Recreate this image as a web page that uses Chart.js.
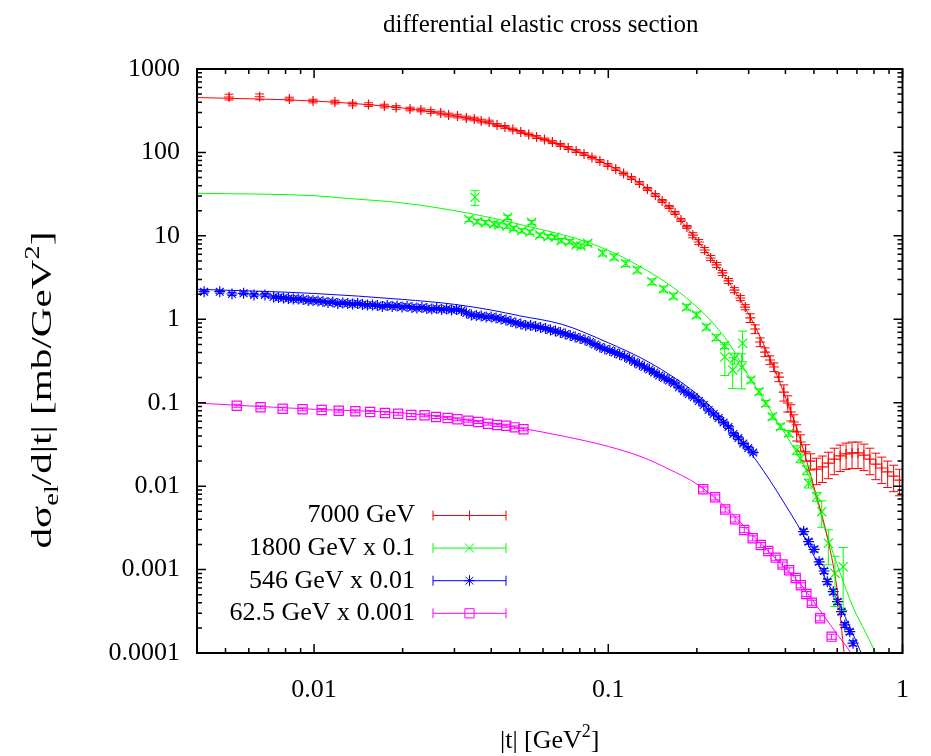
<!DOCTYPE html>
<html>
<head>
<meta charset="utf-8">
<script src="https://cdn.jsdelivr.net/npm/chart.js@4.4.1/dist/chart.umd.min.js"></script>
<style>
  html, body { margin: 0; padding: 0; background: #fff; }
  canvas { display: block; }
</style>
</head>
<body>
<canvas id="c" width="931" height="756"></canvas>
<script>
const FONT = '"Liberation Serif", "Times New Roman", serif';

// axis decades that carry labels
const xTickValues = [0.01, 0.1, 1];
const yTickValues = [0.0001, 0.001, 0.01, 0.1, 1, 10, 100, 1000];

const seriesLabels = ['7000 GeV', '1800 GeV x 0.1', '546 GeV x 0.01', '62.5 GeV x 0.001'];
const seriesColors = ['#ff0000', '#00ff00', '#0000ff', '#ff00ff'];
const seriesMarkers = ['cross', 'crossRot', 'star', 'rect'];
const markerRadii = [5, 6.5, 5.5, 6.5];

// 7000 GeV measurements: |t| [GeV^2], dsigma/dt [mb/GeV^2], relative uncertainty
const t7000 = [0.00514, 0.00653, 0.00824, 0.00992, 0.01177, 0.01352, 0.01531, 0.01733, 0.01901, 0.02119,
  0.02307, 0.02493, 0.02693, 0.02865, 0.03072, 0.03293, 0.03503, 0.03699, 0.03936, 0.04187,
  0.04454, 0.04738, 0.05041, 0.05362, 0.05705, 0.06069, 0.06457, 0.06870, 0.07309, 0.07776,
  0.08270, 0.08800, 0.09363, 0.09961, 0.1060, 0.1127, 0.1199, 0.1276, 0.1358, 0.1445,
  0.1525, 0.1610, 0.1686, 0.1766, 0.1850, 0.1938, 0.2030, 0.2126, 0.2228, 0.2334,
  0.2444, 0.2561, 0.2683, 0.2810, 0.2921, 0.3037, 0.3157, 0.3281, 0.3411, 0.3545,
  0.3656, 0.3800, 0.3950, 0.4074, 0.4170, 0.4268, 0.4368, 0.4506, 0.4684, 0.4869,
  0.5101, 0.5343, 0.5597, 0.5863, 0.6139, 0.6431, 0.6738, 0.7059, 0.7394, 0.7746,
  0.8113, 0.8500, 0.8903, 0.9327, 0.9770];
const v7000 = [462, 465, 437, 413, 402, 381, 375, 360, 346, 332,
  323, 310, 297, 281, 273, 259, 252, 238, 232, 213,
  202, 188, 176, 164, 153, 143, 133, 123, 113, 104,
  95.8, 87.0, 78.9, 70.7, 63.3, 55.9, 49.4, 43.0, 36.5, 30.9,
  26.2, 22.2, 18.8, 15.5, 12.8, 10.2, 8.44, 6.77, 5.43, 4.48,
  3.59, 2.88, 2.24, 1.80, 1.40, 1.04, 0.765, 0.534, 0.405, 0.325,
  0.268, 0.203, 0.134, 0.0992, 0.0774, 0.0587, 0.0446, 0.0338, 0.0257, 0.0200,
  0.0160, 0.0170, 0.0189, 0.0211, 0.0230, 0.0243, 0.0250, 0.0250, 0.0236, 0.0211,
  0.0184, 0.0165, 0.0148, 0.0132, 0.0118];
const e7000 = [0.08, 0.08,
  0.05, 0.05, 0.05, 0.05, 0.05, 0.05, 0.05, 0.05, 0.05, 0.05, 0.05, 0.05, 0.05, 0.05, 0.05, 0.05, 0.05,
  0.04, 0.04, 0.04, 0.04, 0.04, 0.04, 0.04, 0.04, 0.04, 0.04, 0.04, 0.04, 0.04,
  0.04, 0.04, 0.04, 0.04, 0.04, 0.04, 0.04, 0.04, 0.04, 0.04, 0.04, 0.04, 0.04,
  0.07, 0.07, 0.07, 0.07, 0.07, 0.07, 0.07, 0.07, 0.07, 0.07,
  0.12, 0.12, 0.12, 0.12, 0.12, 0.12, 0.12,
  0.22, 0.22, 0.22, 0.22, 0.22, 0.22, 0.22, 0.22,
  0.35, 0.35, 0.35, 0.35, 0.35, 0.35, 0.35, 0.35, 0.35, 0.35, 0.35, 0.35, 0.35, 0.35, 0.35];

// 1800 GeV measurements, scaled by 0.1
const t1800 = [0.03362, 0.03523, 0.03586, 0.03824, 0.04082, 0.04243, 0.04550, 0.04524, 0.04764, 0.05081,
  0.05417, 0.05489, 0.05853, 0.06246, 0.06573, 0.06923, 0.07383, 0.07776, 0.08082, 0.08513,
  0.09561, 0.1046, 0.1145, 0.1254, 0.1408, 0.1540, 0.1664, 0.1846, 0.1995, 0.2155,
  0.2328, 0.2483, 0.2490, 0.2648, 0.2683, 0.2839, 0.2861, 0.3053, 0.3255, 0.3428,
  0.3609, 0.3850, 0.4106, 0.4378, 0.4495, 0.4732, 0.4795, 0.5112, 0.5314, 0.5597,
  0.5894, 0.6285];
const v1800 = [15.8, 29.0, 14.8, 14.4, 13.9, 13.5, 16.7, 13.1, 12.3, 11.5,
  11.1, 14.5, 10.2, 9.77, 9.61, 8.75, 8.51, 7.77, 7.56, 8.14,
  6.23, 5.58, 4.66, 3.90, 2.82, 2.31, 1.90, 1.40, 1.13, 0.808,
  0.605, 0.485, 0.353, 0.247, 0.341, 0.266, 0.516, 0.187, 0.136, 0.0985,
  0.0680, 0.0516, 0.0430, 0.0271, 0.0216, 0.0156, 0.0108, 0.00747, 0.00494, 0.00207,
  0.000902, 0.00108];
const e1800 = [0.06, 0.2,
  0.06, 0.06, 0.06, 0.06, 0.06, 0.06, 0.06, 0.06, 0.06, 0.06, 0.06, 0.06, 0.06, 0.06, 0.06, 0.06, 0.06, 0.06,
  0.08, 0.08, 0.08, 0.08, 0.08, 0.08, 0.08, 0.08, 0.08, 0.08, 0.08, 0.08,
  0.4, 0.4, 0.15, 0.45, 0.4,
  0.08, 0.08, 0.08, 0.08, 0.08, 0.08,
  0.12, 0.12, 0.12, 0.12, 0.12,
  0.35, 0.45, 0.6, 0.7];

// 546 GeV measurements, scaled by 0.01
const t546 = [0.00423, 0.00478, 0.00526, 0.00576, 0.00625, 0.00681,
  0.00728, 0.00757, 0.00787, 0.00818, 0.00850, 0.00883, 0.00918, 0.00955, 0.00992, 0.01031,
  0.01072, 0.01115, 0.01158, 0.01204, 0.01252, 0.01301, 0.01352, 0.01406, 0.01461, 0.01519,
  0.01579, 0.01641, 0.01706, 0.01773, 0.01843, 0.01916, 0.01991, 0.02070, 0.02152, 0.02236,
  0.02325, 0.02416, 0.02512, 0.02611, 0.02714, 0.02821, 0.02932, 0.03048, 0.03168, 0.03293,
  0.03424, 0.03559, 0.03699, 0.03845, 0.03997, 0.04155, 0.04319, 0.04489, 0.04666, 0.04850,
  0.05042, 0.05240, 0.05447, 0.05662, 0.05885, 0.06118, 0.06359, 0.06610, 0.06871, 0.07142,
  0.07424, 0.07716, 0.08021, 0.08337, 0.08666, 0.09008, 0.09363, 0.09732, 0.1012, 0.1052,
  0.1093, 0.1136, 0.1181, 0.1228, 0.1276, 0.1327, 0.1379, 0.1433, 0.1490, 0.1549,
  0.1610, 0.1673, 0.1739, 0.1808, 0.1879, 0.1954, 0.2031, 0.2111, 0.2194, 0.2280,
  0.2371, 0.2465, 0.2562, 0.2663, 0.2767, 0.2876, 0.2990, 0.3108,
  0.4612, 0.4795, 0.5009, 0.5207, 0.5412, 0.5553, 0.5817, 0.6013, 0.6204, 0.6368, 0.6619, 0.6790];
const v546 = [2.14, 2.14, 2.01, 2.05, 1.96, 1.96,
  1.850, 1.825, 1.800, 1.775, 1.751, 1.751, 1.727, 1.680, 1.680, 1.657,
  1.634, 1.590, 1.612, 1.547, 1.568, 1.547, 1.525, 1.547, 1.504, 1.484,
  1.484, 1.464, 1.423, 1.464, 1.423, 1.443, 1.404, 1.423, 1.385, 1.366,
  1.385, 1.347, 1.329, 1.347, 1.310, 1.329, 1.292, 1.310, 1.275, 1.190,
  1.126, 1.111, 1.095, 1.065, 1.065, 1.036, 1.008, 0.981, 0.941, 0.903,
  0.878, 0.843, 0.843, 0.820, 0.797, 0.776, 0.744, 0.724, 0.694, 0.666,
  0.639, 0.613, 0.588, 0.565, 0.534, 0.499, 0.465, 0.440, 0.423, 0.400,
  0.378, 0.358, 0.334, 0.308, 0.287, 0.268, 0.250, 0.230, 0.212, 0.198,
  0.185, 0.172, 0.154, 0.138, 0.127, 0.117, 0.105, 0.0939, 0.0818, 0.0732,
  0.0656, 0.0579, 0.0512, 0.0422, 0.0378, 0.0324, 0.0287, 0.0253,
  0.00285, 0.00216, 0.00175, 0.00124, 0.000962, 0.000716, 0.000543, 0.000412, 0.000313, 0.000217, 0.000180, 0.000131];
const e546 = [0.04, 0.04, 0.04, 0.04, 0.04, 0.04,
  0.03, 0.03, 0.03, 0.03, 0.03, 0.03, 0.03, 0.03, 0.03, 0.03,
  0.03, 0.03, 0.03, 0.03, 0.03, 0.03, 0.03, 0.03, 0.03, 0.03,
  0.03, 0.03, 0.03, 0.03, 0.03, 0.03, 0.03, 0.03, 0.03, 0.03,
  0.03, 0.03, 0.03, 0.03, 0.03, 0.03, 0.03, 0.03, 0.03, 0.03,
  0.03, 0.03, 0.03, 0.03, 0.03, 0.03, 0.03, 0.03, 0.03, 0.03,
  0.03, 0.03, 0.03, 0.03, 0.03, 0.03, 0.03, 0.03, 0.03, 0.03,
  0.03, 0.03, 0.03, 0.03, 0.03, 0.03, 0.03, 0.03, 0.03, 0.03,
  0.03, 0.03, 0.03, 0.03, 0.03, 0.03, 0.03, 0.03, 0.03, 0.03,
  0.03, 0.03, 0.03, 0.03, 0.03, 0.03, 0.03, 0.03, 0.03, 0.03,
  0.04, 0.04, 0.04, 0.04, 0.04, 0.04, 0.04, 0.04,
  0.07, 0.07, 0.07, 0.07, 0.07, 0.07, 0.07, 0.07, 0.07, 0.07, 0.07, 0.07];

// 62.5 GeV measurements, scaled by 0.001
const t62 = [0.00546, 0.00658, 0.00782, 0.00914, 0.01061, 0.01213, 0.01381, 0.01551, 0.01742, 0.01931,
  0.02140, 0.02374, 0.02597, 0.02844, 0.03072, 0.03345, 0.03614, 0.03905, 0.04187, 0.04499,
  0.04801, 0.05148,
  0.2102, 0.2307, 0.2497, 0.2698, 0.2899, 0.3096, 0.3298, 0.3499, 0.3705, 0.3911,
  0.4117, 0.4335, 0.4513, 0.4713, 0.4918, 0.5248, 0.5741];
const v62 = [0.0920, 0.0881, 0.0848, 0.0834, 0.0818, 0.0802, 0.0789, 0.0774, 0.0753, 0.0738,
  0.0712, 0.0707, 0.0674, 0.0656, 0.0633, 0.0609, 0.0587, 0.0560, 0.0541, 0.0530,
  0.0507, 0.0480,
  0.00917, 0.00735, 0.00525, 0.00400, 0.00298, 0.00237, 0.00197, 0.00167, 0.00139, 0.00115,
  0.000980, 0.000793, 0.000648, 0.000510, 0.000401, 0.000261, 0.000157];
const e62 = [0.04, 0.04, 0.04, 0.04, 0.04, 0.04, 0.04, 0.04, 0.04, 0.04,
  0.04, 0.04, 0.04, 0.04, 0.04, 0.04, 0.04, 0.04, 0.04, 0.04, 0.04, 0.04,
  0.07, 0.07, 0.07, 0.07, 0.07, 0.07, 0.07, 0.07, 0.07, 0.07,
  0.07, 0.07, 0.07, 0.07, 0.07, 0.07, 0.07];

// model curves
const fitT7000 = [0.004, 0.01, 0.02, 0.03, 0.04, 0.05, 0.07, 0.1, 0.15, 0.2, 0.25, 0.3, 0.35, 0.4, 0.45, 0.5, 0.55, 0.6, 0.635];
const fitV7000 = [455, 413, 341, 275, 222, 178, 119, 70.7, 27.7, 8.92, 3.21, 1.157, 0.373, 0.117, 0.0357, 0.00977, 0.00282, 0.000569, 0.00009];
const fitT1800 = [0.004, 0.01, 0.0128, 0.02, 0.0332, 0.0528, 0.086, 0.1237, 0.1822, 0.2483, 0.306, 0.3861, 0.4368, 0.4869, 0.5511, 0.6139, 0.6788, 0.7507, 0.8177];
const fitV1800 = [32.4, 30.3, 28.2, 24.8, 18.8, 13.1, 8.28, 4.60, 1.87, 0.613, 0.187, 0.0512, 0.0250, 0.0119, 0.00274, 0.00091, 0.000356, 0.000174, 0.0000946];
const fitT546 = [0.004, 0.01, 0.02, 0.03, 0.04, 0.05, 0.07, 0.1, 0.13, 0.16, 0.2, 0.25, 0.3, 0.35, 0.4, 0.45, 0.5, 0.55, 0.6, 0.65, 0.7, 0.73];
const fitV546 = [2.29, 2.04, 1.73, 1.51, 1.29, 1.10, 0.865, 0.523, 0.340, 0.222, 0.127, 0.0591, 0.0270, 0.0125, 0.00594, 0.00298, 0.00146, 0.00075, 0.000432, 0.000235, 0.000132, 0.0000925];
const fitT62 = [0.004, 0.01, 0.02, 0.03, 0.04, 0.05, 0.07, 0.1, 0.13, 0.16, 0.2, 0.25, 0.3, 0.35, 0.4, 0.45, 0.5, 0.55, 0.6, 0.65, 0.678];
const fitV62 = [0.099, 0.0834, 0.0753, 0.0647, 0.0564, 0.0498, 0.0399, 0.0299, 0.0224, 0.0161, 0.0106, 0.00562, 0.00290, 0.00167, 0.00102, 0.000672, 0.000409, 0.000256, 0.000167, 0.000115, 0.000092];

const pts = (t, v) => t.map((x, i) => ({ x, y: v[i] }));

function dataSet(i, t, v, err) {
  return {
    type: 'scatter', label: seriesLabels[i], data: pts(t, v), relErr: err,
    showLine: false, borderColor: seriesColors[i], backgroundColor: 'rgba(0,0,0,0)',
    pointStyle: seriesMarkers[i], pointRadius: markerRadii[i], pointHoverRadius: markerRadii[i],
    pointBorderWidth: 1.2, pointBackgroundColor: 'rgba(0,0,0,0)', pointBorderColor: seriesColors[i]
  };
}
function curveSet(i, t, v) {
  return {
    type: 'line', label: seriesLabels[i] + ' fit', data: pts(t, v),
    borderColor: seriesColors[i], borderWidth: 1, pointRadius: 0, fill: false,
    cubicInterpolationMode: 'monotone'
  };
}

// vertical error bars with short caps
const CAP = 4.5;
const errorBars = {
  id: 'errorBars',
  afterDatasetsDraw(chart) {
    const { ctx, chartArea: a, scales: { x, y } } = chart;
    ctx.save();
    ctx.beginPath();
    ctx.rect(a.left, a.top, a.right - a.left, a.bottom - a.top);
    ctx.clip();
    ctx.lineWidth = 1;
    chart.data.datasets.forEach(ds => {
      if (!ds.relErr) return;
      ctx.strokeStyle = ds.borderColor;
      ctx.beginPath();
      ds.data.forEach((p, i) => {
        const px = x.getPixelForValue(p.x);
        const lo = y.getPixelForValue(p.y * (1 - ds.relErr[i]));
        const hi = y.getPixelForValue(p.y * (1 + ds.relErr[i]));
        ctx.moveTo(px, lo); ctx.lineTo(px, hi);
        ctx.moveTo(px - CAP, lo); ctx.lineTo(px + CAP, lo);
        ctx.moveTo(px - CAP, hi); ctx.lineTo(px + CAP, hi);
      });
      ctx.stroke();
    });
    ctx.restore();
  }
};

// plot frame with inward major and minor tick marks on all four sides
const frame = {
  id: 'frame',
  afterDraw(chart) {
    const { ctx, chartArea: a, scales: { x, y } } = chart;
    ctx.save();
    ctx.strokeStyle = '#000';
    ctx.lineWidth = 1.5;
    ctx.beginPath();
    for (let d = -3; d <= 0; d++) {
      for (let m = 1; m <= 9; m++) {
        const v = m * Math.pow(10, d);
        if (v < x.min * 0.999 || v > x.max * 1.001) continue;
        const px = x.getPixelForValue(v), len = m === 1 ? 9 : 5;
        ctx.moveTo(px, a.bottom); ctx.lineTo(px, a.bottom - len);
        ctx.moveTo(px, a.top); ctx.lineTo(px, a.top + len);
      }
    }
    for (let d = -4; d <= 3; d++) {
      for (let m = 1; m <= 9; m++) {
        const v = m * Math.pow(10, d);
        if (v < y.min * 0.999 || v > y.max * 1.001) continue;
        const py = y.getPixelForValue(v), len = m === 1 ? 9 : 5;
        ctx.moveTo(a.left, py); ctx.lineTo(a.left + len, py);
        ctx.moveTo(a.right, py); ctx.lineTo(a.right - len, py);
      }
    }
    ctx.stroke();
    ctx.lineWidth = 2;
    ctx.strokeRect(a.left, a.top, a.right - a.left, a.bottom - a.top);
    ctx.restore();
  }
};

// draws a run of text pieces (size, vertical shift) centred on x
function drawRuns(ctx, runs, cx, baseY) {
  let total = 0;
  runs.forEach(r => { ctx.font = r.size + 'px ' + FONT; total += ctx.measureText(r.text).width; });
  let xx = cx - total / 2;
  ctx.textAlign = 'left';
  ctx.textBaseline = 'alphabetic';
  runs.forEach(r => {
    ctx.font = r.size + 'px ' + FONT;
    ctx.fillText(r.text, xx, baseY + (r.dy || 0));
    xx += ctx.measureText(r.text).width;
  });
  return total;
}

const texts = {
  id: 'texts',
  afterDraw(chart) {
    const { ctx, chartArea: a } = chart;
    const cx = (a.left + a.right) / 2;
    ctx.save();
    ctx.fillStyle = '#000';
    // title
    ctx.font = '25px ' + FONT;
    ctx.textAlign = 'center';
    ctx.textBaseline = 'alphabetic';
    ctx.fillText('differential elastic cross section', cx - 9, 32);
    // x axis title
    drawRuns(ctx, [
      { text: '|t| [GeV', size: 26 },
      { text: '2', size: 18, dy: -11 },
      { text: ']', size: 26 }
    ], cx, 748);
    // y axis title, rotated
    ctx.save();
    ctx.translate(51, 390);
    ctx.rotate(-Math.PI / 2);
    ctx.scale(1.42, 1);
    drawRuns(ctx, [
      { text: 'd\u03C3', size: 29 },
      { text: 'el', size: 20, dy: 7 },
      { text: '/d|t| [mb/GeV', size: 29 },
      { text: '2', size: 20, dy: -12 },
      { text: ']', size: 29 }
    ], 0, 0);
    ctx.restore();
    // key
    ctx.font = '26px ' + FONT;
    ctx.textAlign = 'right';
    ctx.textBaseline = 'middle';
    seriesLabels.forEach((label, i) => {
      const yy = a.top + 446.5 + i * 32.6;
      ctx.fillStyle = '#000';
      ctx.fillText(label, a.left + 218, yy);
      const x0 = a.left + 236, x1 = a.left + 309, xm = (x0 + x1) / 2;
      ctx.strokeStyle = seriesColors[i];
      ctx.fillStyle = 'rgba(0,0,0,0)';
      ctx.lineWidth = 1;
      ctx.beginPath();
      ctx.moveTo(x0, yy); ctx.lineTo(x1, yy);
      ctx.moveTo(x0, yy - 5); ctx.lineTo(x0, yy + 5);
      ctx.moveTo(x1, yy - 5); ctx.lineTo(x1, yy + 5);
      ctx.stroke();
      Chart.helpers.drawPoint(ctx, {
        pointStyle: seriesMarkers[i], radius: markerRadii[i], rotation: 0, borderWidth: 1
      }, xm, yy);
    });
    ctx.restore();
  }
};

new Chart(document.getElementById('c'), {
  type: 'scatter',
  data: {
    datasets: [
      curveSet(0, fitT7000, fitV7000),
      curveSet(1, fitT1800, fitV1800),
      curveSet(2, fitT546, fitV546),
      curveSet(3, fitT62, fitV62),
      dataSet(0, t7000, v7000, e7000),
      dataSet(1, t1800, v1800, e1800),
      dataSet(2, t546, v546, e546),
      dataSet(3, t62, v62, e62)
    ]
  },
  options: {
    responsive: false,
    animation: false,
    events: [],
    layout: { padding: { left: 0, top: 69, right: 21, bottom: 0 } },
    plugins: { legend: { display: false }, title: { display: false }, tooltip: { enabled: false } },
    scales: {
      x: {
        type: 'logarithmic', min: 0.004, max: 1,
        grid: { display: false, drawTicks: false },
        border: { display: false },
        afterBuildTicks: s => { s.ticks = xTickValues.map(v => ({ value: v })); },
        afterFit: s => { s.height = 103; },
        ticks: {
          autoSkip: false, maxRotation: 0, padding: 22, color: '#000',
          font: { family: FONT, size: 26 },
          callback: v => String(v)
        }
      },
      y: {
        type: 'logarithmic', min: 0.0001, max: 1000,
        grid: { display: false, drawTicks: false },
        border: { display: false },
        afterBuildTicks: s => { s.ticks = yTickValues.map(v => ({ value: v })); },
        afterFit: s => { s.width = 197; },
        ticks: {
          autoSkip: false, padding: 17, color: '#000',
          font: { family: FONT, size: 26 },
          callback: v => String(v)
        }
      }
    }
  },
  plugins: [errorBars, frame, texts]
});
</script>
</body>
</html>
